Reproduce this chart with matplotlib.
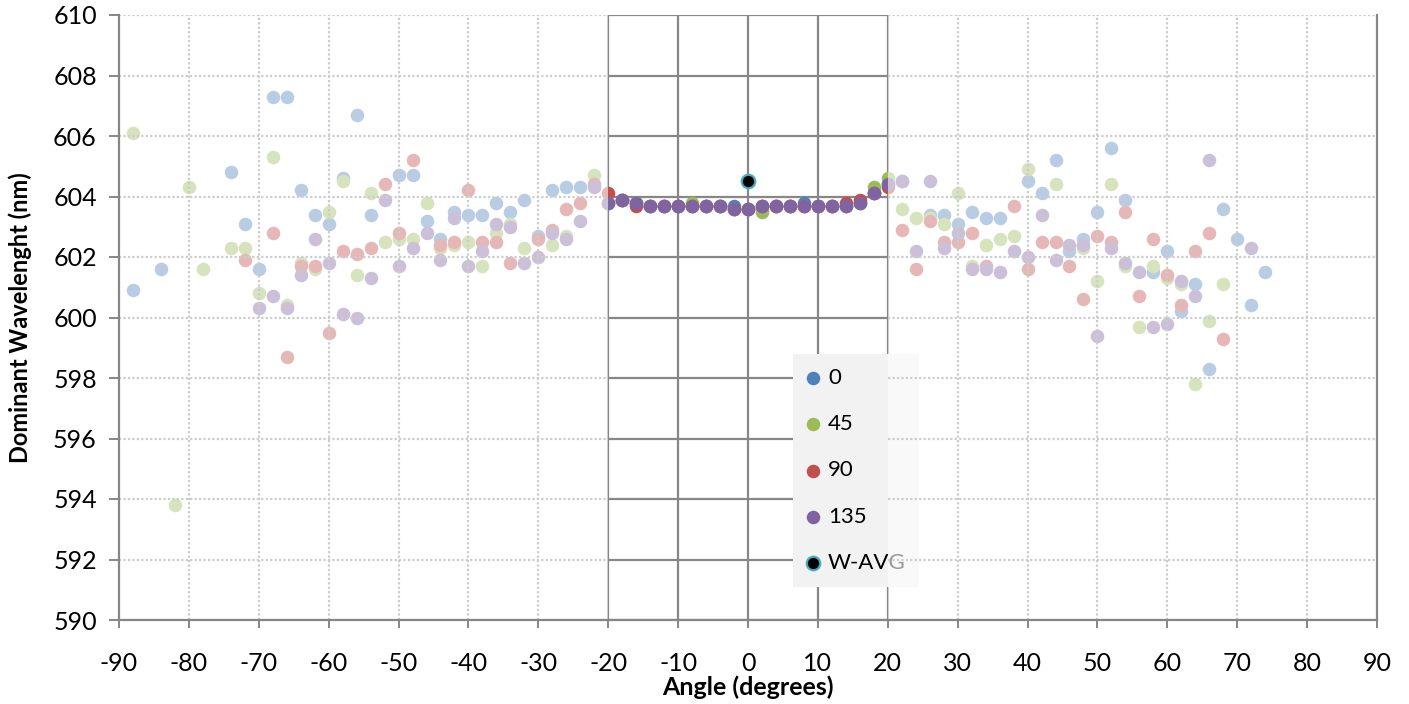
import numpy as np
import matplotlib
matplotlib.use("Agg")
import matplotlib.pyplot as plt

plt.rcParams['font.family'] = ['Lato', 'DejaVu Sans']
plt.rcParams['axes.unicode_minus'] = False

# ---------------- data ----------------
center_angles = [-20, -18, -16, -14, -12, -10, -8, -6, -4, -2, 0, 2, 4, 6, 8, 10, 12, 14, 16, 18, 20]

# series "0"
left_angles_0 = [-88, -84, -74, -72, -70, -68, -66, -64, -62, -60, -58, -56, -54, -50, -48, -46, -44, -42,
                 -40, -38, -36, -34, -32, -30, -28, -26, -24]
left_wl_0 = [600.9, 601.6, 604.8, 603.1, 601.6, 607.3, 607.3, 604.2, 603.4, 603.1, 604.6, 606.7, 603.4, 604.7,
             604.7, 603.2, 602.6, 603.5, 603.4, 603.4, 603.8, 603.5, 603.9, 602.7, 604.2, 604.3, 604.3]
center_wl_0 = [603.8, 603.9, 603.8, 603.7, 603.7, 603.7, 603.7, 603.7, 603.7, 603.7, 603.6, 603.7, 603.7, 603.7,
               603.8, 603.7, 603.7, 603.7, 603.8, 604.1, 604.4]
right_angles_0 = [22, 26, 28, 30, 32, 34, 36, 40, 42, 44, 46, 48, 50, 52, 54, 58, 60, 62, 64, 66, 68, 70, 72, 74]
right_wl_0 = [604.5, 603.4, 603.4, 603.1, 603.5, 603.3, 603.3, 604.5, 604.1, 605.2, 602.2, 602.6, 603.5, 605.6,
              603.9, 601.5, 602.2, 600.2, 601.1, 598.3, 603.6, 602.6, 600.4, 601.5]

# series "45"
left_angles_45 = [-88, -82, -80, -78, -74, -72, -70, -68, -66, -64, -62, -60, -58, -56, -54, -52, -50, -48, -46,
                  -44, -42, -40, -38, -36, -34, -32, -28, -26, -22]
left_wl_45 = [606.1, 593.8, 604.3, 601.6, 602.3, 602.3, 600.8, 605.3, 600.4, 601.8, 601.6, 603.5, 604.5, 601.4,
              604.1, 602.5, 602.6, 602.6, 603.8, 602.3, 602.4, 602.5, 601.7, 602.8, 603.1, 602.3, 602.4, 602.7, 604.7]
center_wl_45 = [603.8, 603.9, 603.8, 603.7, 603.7, 603.7, 603.8, 603.7, 603.7, 603.6, 603.6, 603.5, 603.7, 603.7,
                603.7, 603.7, 603.7, 603.7, 603.8, 604.3, 604.6]
right_angles_45 = [22, 24, 26, 28, 30, 32, 34, 36, 38, 40, 44, 46, 48, 50, 52, 54, 56, 58, 60, 62, 64, 66, 68]
right_wl_45 = [603.6, 603.3, 603.3, 603.1, 604.1, 601.7, 602.4, 602.6, 602.7, 604.9, 604.4, 602.4, 602.3, 601.2,
               604.4, 601.7, 599.7, 601.7, 601.3, 601.1, 597.8, 599.9, 601.1]

# series "90"
left_angles_90 = [-72, -68, -66, -64, -62, -60, -58, -56, -54, -52, -50, -48, -44, -42, -40, -38, -36, -34, -30,
                  -28, -26, -24, -22]
left_wl_90 = [601.9, 602.8, 598.7, 601.7, 601.7, 599.5, 602.2, 602.1, 602.3, 604.4, 602.8, 605.2, 602.4, 602.5,
              604.2, 602.5, 602.5, 601.8, 602.6, 602.9, 603.6, 603.8, 604.4]
center_wl_90 = [604.1, 603.9, 603.7, 603.7, 603.7, 603.7, 603.7, 603.7, 603.7, 603.6, 603.6, 603.7, 603.7, 603.7,
                603.7, 603.7, 603.7, 603.8, 603.9, 604.1, 604.3]
right_angles_90 = [22, 24, 26, 28, 30, 32, 34, 38, 40, 42, 44, 46, 48, 50, 52, 54, 56, 58, 60, 62, 64, 66, 68]
right_wl_90 = [602.9, 601.6, 603.2, 602.5, 602.5, 602.8, 601.7, 603.7, 601.6, 602.5, 602.5, 601.7, 600.6, 602.7,
               602.5, 603.5, 600.7, 602.6, 601.4, 600.4, 602.2, 602.8, 599.3]

# series "135"
left_angles_135 = [-70, -68, -66, -64, -62, -60, -58, -56, -54, -52, -50, -48, -46, -44, -42, -40, -38, -36, -34,
                   -32, -30, -28, -26, -24, -22]
left_wl_135 = [600.3, 600.7, 600.3, 601.4, 602.6, 601.8, 600.1, 600.0, 601.3, 603.9, 601.7, 602.3, 602.8, 601.9,
               603.3, 601.7, 602.2, 603.1, 603.0, 601.8, 602.0, 602.8, 602.6, 603.2, 604.3]
center_wl_135 = [603.8, 603.9, 603.8, 603.7, 603.7, 603.7, 603.7, 603.7, 603.7, 603.6, 603.6, 603.7, 603.7, 603.7,
                 603.7, 603.7, 603.7, 603.7, 603.8, 604.1, 604.4]
right_angles_135 = [22, 24, 26, 28, 30, 32, 34, 36, 38, 40, 42, 44, 46, 48, 50, 52, 54, 56, 58, 60, 62, 64, 66, 72]
right_wl_135 = [604.5, 602.2, 604.5, 602.3, 602.8, 601.6, 601.6, 601.5, 602.2, 602.0, 603.4, 601.9, 602.4, 602.4,
                599.4, 602.3, 601.8, 601.5, 599.7, 599.8, 601.2, 600.7, 605.2, 602.3]

# weighted average
wavg_angles = [0]
wavg_wl = [604.5]

series_labels = ["0", "45", "90", "135"]
series_colors = ["#4F81BD", "#9BBB59", "#C0504D", "#8064A2"]

x_ticks = list(range(-90, 91, 10))
y_ticks = list(range(590, 611, 2))

# ---------------- figure ----------------
W, H = 1409, 704
fig = plt.figure(figsize=(W / 100, H / 100), dpi=100)
ax = fig.add_axes([119 / W, 1 - 620 / H, 1258 / W, 605 / H])
ax.set_xlim(-90, 90)
ax.set_ylim(590, 610)

grid_solid = "#878787"
grid_dot = "#cccccc"

# central solid grid
ax.hlines(y_ticks, -20, 20, colors=grid_solid, linewidth=1.6, zorder=1)
ax.vlines([t for t in x_ticks if -20 <= t <= 20], 590, 610, colors=grid_solid, linewidth=1.6, zorder=1)

all_data = [
    (left_angles_0, left_wl_0, center_wl_0, right_angles_0, right_wl_0),
    (left_angles_45, left_wl_45, center_wl_45, right_angles_45, right_wl_45),
    (left_angles_90, left_wl_90, center_wl_90, right_angles_90, right_wl_90),
    (left_angles_135, left_wl_135, center_wl_135, right_angles_135, right_wl_135),
]

msize = 95
for (la, lw_, cw, ra, rw), lab, col in zip(all_data, series_labels, series_colors):
    xs = list(la) + center_angles + list(ra)
    ys = list(lw_) + list(cw) + list(rw)
    ax.scatter(xs, ys, s=msize, color=col, linewidths=0, label=lab, zorder=3)

ax.scatter(wavg_angles, wavg_wl, s=msize, color="black", edgecolors="#4BACC6", linewidths=1.6,
           label="W-AVG", zorder=3.2)

leg = ax.legend(loc="upper left", bbox_to_anchor=((793 - 119) / 1258, (620 - 354) / 605),
                frameon=True, facecolor="#f2f2f2", edgecolor="none", framealpha=1, fancybox=False,
                fontsize=16, labelspacing=1.19, borderpad=0.61, handlelength=0.59, handletextpad=0.38,
                scatterpoints=1, borderaxespad=0)
leg.set_zorder(4)

# pale overlay on outer regions
ax.axvspan(-90, -20, color="white", alpha=0.6, linewidth=0, zorder=5)
ax.axvspan(20, 90, color="white", alpha=0.6, linewidth=0, zorder=5)

# outer dotted grid (above overlay)
ax.hlines(y_ticks, -90, -20, colors=grid_dot, linewidth=1.6, linestyles=(0, (1, 1)), zorder=6)
ax.hlines(y_ticks, 20, 90, colors=grid_dot, linewidth=1.6, linestyles=(0, (1, 1)), zorder=6)
ax.vlines([t for t in x_ticks if abs(t) > 20 and abs(t) < 90], 590, 610, colors=grid_dot,
          linewidth=1.6, linestyles=(0, (1, 1)), zorder=6)

for side in ["left", "bottom", "right"]:
    ax.spines[side].set_color("#868686")
    ax.spines[side].set_linewidth(1.6)
    ax.spines[side].set_zorder(7)
ax.spines["top"].set_visible(False)

ax.set_xticks(x_ticks)
ax.set_yticks(y_ticks)
ax.tick_params(axis="x", direction="out", length=6, width=1.4, color="#868686", pad=17,
               labelsize=18, labelcolor="black")
ax.tick_params(axis="y", direction="out", length=7, width=1.4, color="#868686", pad=9,
               labelsize=18, labelcolor="black")
ax.tick_params(axis="y", right=False)

ax.set_xlabel("Angle (degrees)", fontsize=18, fontweight="bold", labelpad=0)
ax.set_ylabel("Dominant Wavelenght (nm)", fontsize=17, fontweight="bold", labelpad=15)

fig.savefig("out.png", dpi=100)
